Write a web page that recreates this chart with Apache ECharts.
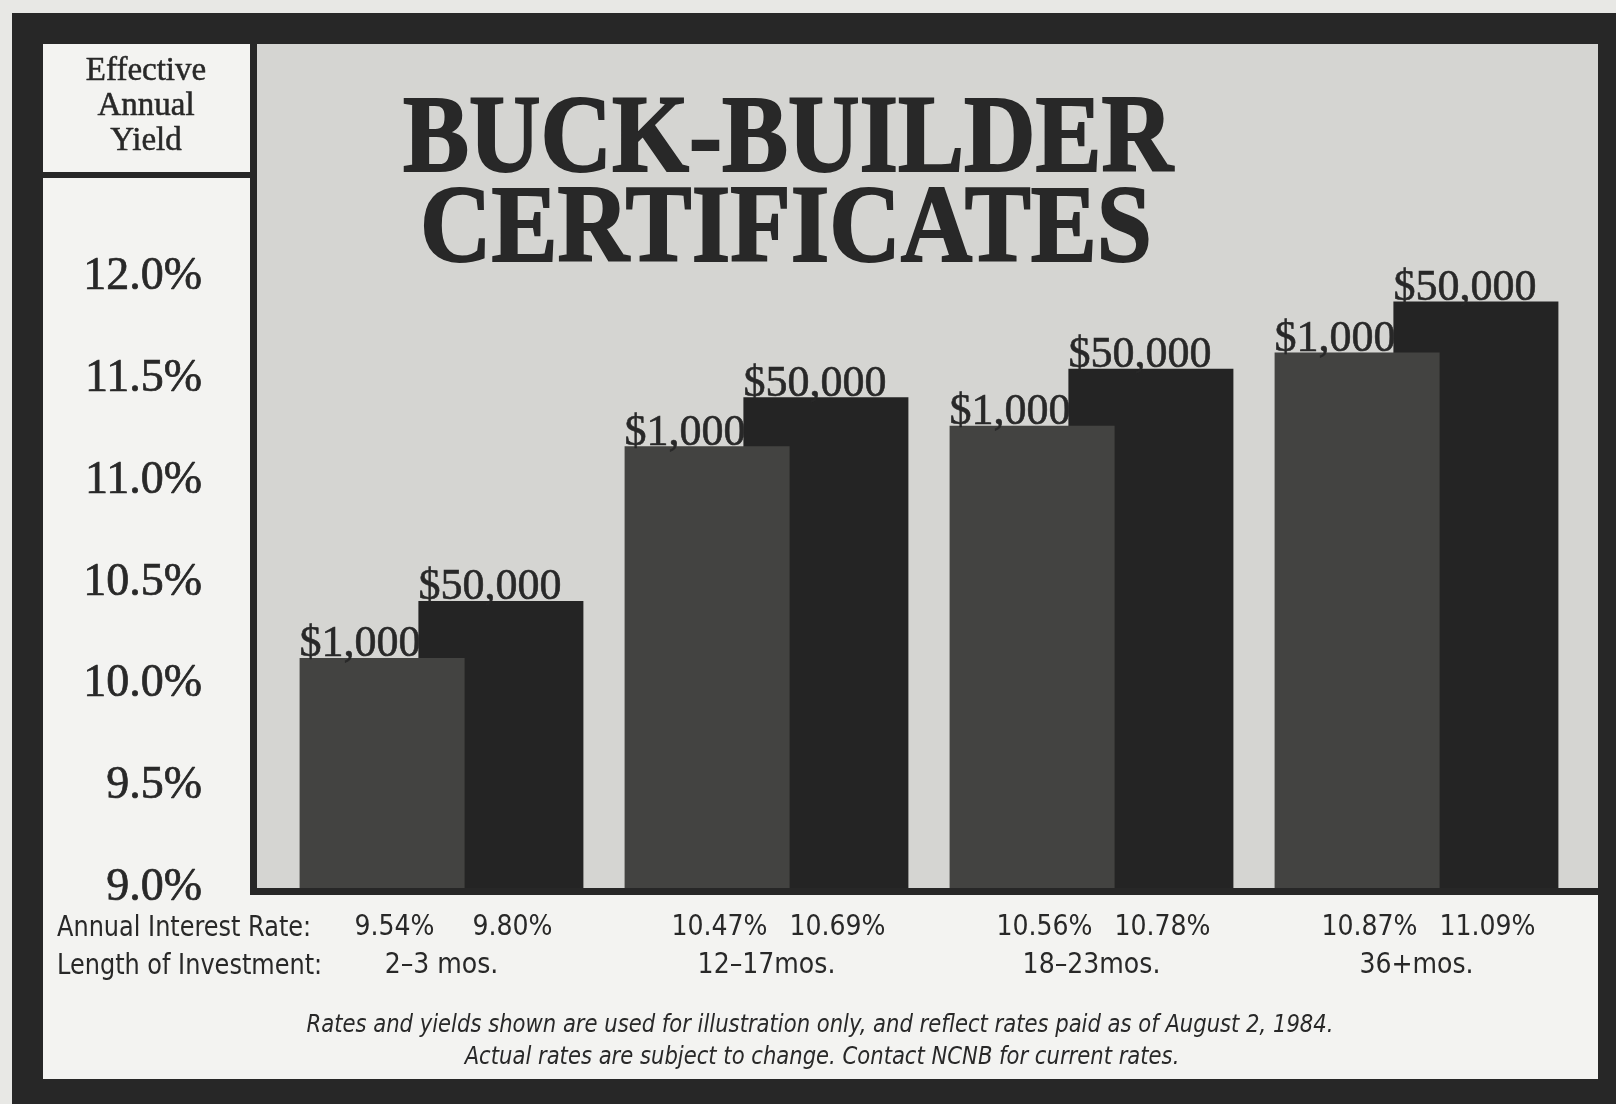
<!DOCTYPE html>
<html>
<head>
<meta charset="utf-8">
<title>Buck-Builder Certificates</title>
<script src="https://cdn.jsdelivr.net/npm/echarts@6/dist/echarts.min.js"></script>
<style>
html,body{margin:0;padding:0;background:#e8e8e5;}
#chart{width:1616px;height:1104px;}
</style>
</head>
<body>
<div id="chart"></div>
<script>
// values
const terms       = ['2–3 mos.', '12–17mos.', '18–23mos.', '36+mos.'];
const yield_1000  = [10.13, 11.17, 11.27, 11.63];
const yield_50000 = [10.41, 11.41, 11.55, 11.88];
const rate_1000   = ['9.54%', '10.47%', '10.56%', '10.87%'];
const rate_50000  = ['9.80%', '10.69%', '10.78%', '11.09%'];
const bar_names   = ['$1,000', '$50,000'];
const y_top_tick  = 12.0;

const serif  = "'Liberation Serif','DejaVu Serif',serif";
const narrow = "'Liberation Sans Narrow','DejaVu Sans Condensed','Liberation Sans',sans-serif";
const ink    = '#282828';

const chart = echarts.init(document.getElementById('chart'));

function barLabel(name){
    return {
        show: true,
        formatter: name,
        position: [0, 9],
        align: 'left',
        verticalAlign: 'bottom',
        fontFamily: serif,
        fontSize: 44,
        color: ink,
        textBorderColor: ink,
        textBorderWidth: 0.6
    };
}

const rateStyle = {fontFamily: narrow, fontSize: 28, lineHeight: 38, color: ink};

const option = {
    backgroundColor: '#e8e8e5',
    animation: false,
    grid: {left: 279, right: 37, top: 45, bottom: 216},
    xAxis: {
        type: 'category',
        data: terms,
        axisLine:  {show: false},
        axisTick:  {show: false},
        axisLabel: {
            interval: 0,
            margin: 21,
            color: ink,
            fontFamily: narrow,
            fontSize: 28,
            formatter: (v, i) => `{r1|${rate_1000[i]}}{r2|${rate_50000[i]}}\n{t|${v}}`,
            rich: {
                r1: Object.assign({width: 118, padding: [0, 0, 0, 24], align: 'center'}, rateStyle),
                r2: Object.assign({width: 118, align: 'center'}, rateStyle),
                t:  Object.assign({width: 260, align: 'center'}, rateStyle)
            }
        }
    },
    yAxis: {
        type: 'value',
        min: 9,
        max: 13.14,
        interval: 0.5,
        splitLine: {show: false},
        axisLine:  {show: false},
        axisTick:  {show: false},
        axisLabel: {
            margin: 77,
            padding: [0, 0, 14, 0],
            color: ink,
            fontFamily: serif,
            fontSize: 46,
            textBorderColor: ink,
            textBorderWidth: 0.7,
            formatter: v => v > y_top_tick + 0.01 ? '' : v.toFixed(1) + '%'
        }
    },
    series: [
        {
            name: bar_names[0],
            type: 'bar',
            data: yield_1000,
            barWidth: 165,
            barGap: '-28%',
            z: 3,
            itemStyle: {color: '#434341'},
            label: barLabel(bar_names[0])
        },
        {
            name: bar_names[1],
            type: 'bar',
            data: yield_50000,
            barWidth: 165,
            barGap: '-28%',
            z: 2,
            itemStyle: {color: '#242424'},
            label: barLabel(bar_names[1])
        }
    ],
    graphic: [
        // dark frame, white card, grey plot box
        {type: 'rect', z: 0, shape: {x: 12, y: 13, width: 1604, height: 1091}, style: {fill: '#272727'}},
        {type: 'rect', z: 0, shape: {x: 43, y: 44, width: 1555, height: 1035}, style: {fill: '#f3f3f1'}},
        {type: 'rect', z: 0, shape: {x: 250, y: 44, width: 1348, height: 851}, style: {fill: '#272727'}},
        {type: 'rect', z: 0, shape: {x: 257, y: 44, width: 1341, height: 844}, style: {fill: '#d5d5d2'}},
        {type: 'rect', z: 0, shape: {x: 43, y: 172, width: 210, height: 6}, style: {fill: '#272727'}},
        {
            type: 'text', z: 1, x: 146, y: 106,
            style: {
                text: 'Effective\nAnnual\nYield',
                fill: ink, stroke: ink, lineWidth: 0.5, font: `33px ${serif}`, lineHeight: 35,
                textAlign: 'center', textVerticalAlign: 'middle'
            }
        },
        {
            type: 'text', z: 5, x: 788, y: 143, scaleX: 0.9,
            style: {
                text: 'BUCK-BUILDER', fill: ink, stroke: ink, lineWidth: 2, font: `bold 110px ${serif}`,
                textAlign: 'center', textVerticalAlign: 'middle'
            }
        },
        {
            type: 'text', z: 5, x: 786, y: 233, scaleX: 0.9,
            style: {
                text: 'CERTIFICATES', fill: ink, stroke: ink, lineWidth: 2, font: `bold 110px ${serif}`,
                textAlign: 'center', textVerticalAlign: 'middle'
            }
        },
        {
            type: 'text', z: 1, x: 57, y: 928, scaleX: 0.92,
            style: {text: 'Annual Interest Rate:', fill: ink, font: `29px ${narrow}`, textAlign: 'left', textVerticalAlign: 'middle'}
        },
        {
            type: 'text', z: 1, x: 57, y: 966, scaleX: 0.92,
            style: {text: 'Length of Investment:', fill: ink, font: `29px ${narrow}`, textAlign: 'left', textVerticalAlign: 'middle'}
        },
        {
            type: 'text', z: 1, x: 820, y: 1025, scaleX: 0.94,
            style: {
                text: 'Rates and yields shown are used for illustration only, and reflect rates paid as of August 2, 1984.',
                fill: ink, font: `italic 25px ${narrow}`, textAlign: 'center', textVerticalAlign: 'middle'
            }
        },
        {
            type: 'text', z: 1, x: 822, y: 1057, scaleX: 0.94,
            style: {
                text: 'Actual rates are subject to change. Contact NCNB for current rates.',
                fill: ink, font: `italic 25px ${narrow}`, textAlign: 'center', textVerticalAlign: 'middle'
            }
        }
    ]
};

chart.setOption(option);
window.addEventListener('resize', chart.resize);
</script>
</body>
</html>
